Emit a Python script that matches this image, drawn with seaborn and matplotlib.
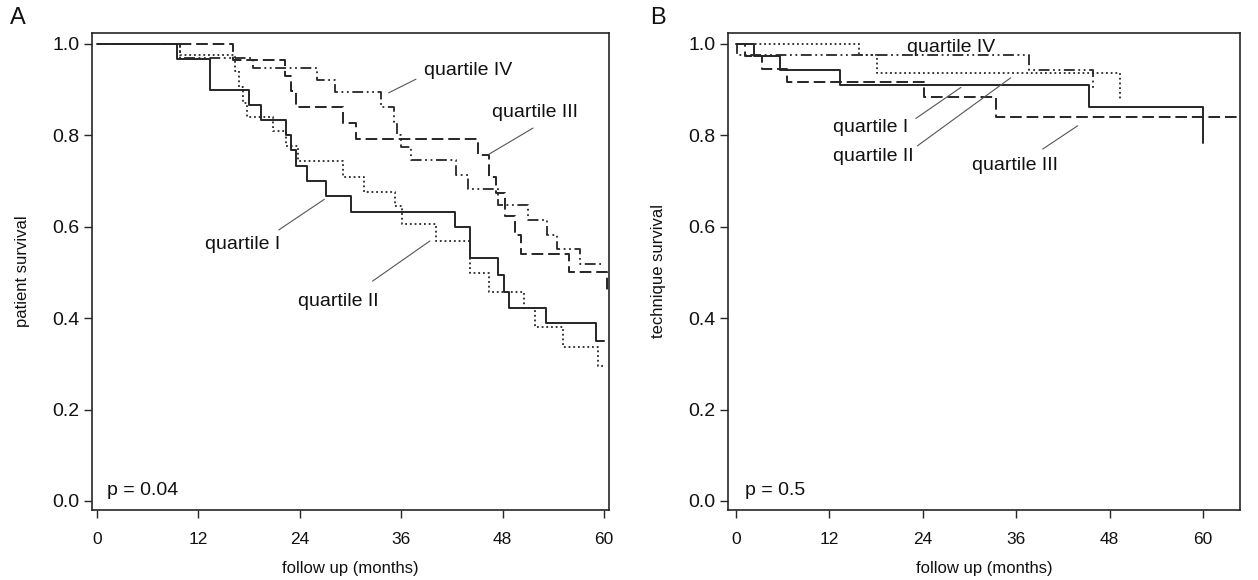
import matplotlib
matplotlib.use("Agg")
import matplotlib.pyplot as plt
import seaborn as sns

# --- data (months, survival fraction) ---
a_q1_t = [0, 9.5, 13.4, 18.0, 19.4, 22.4, 22.9, 23.6, 24.8, 27.1, 30.1, 42.4, 44.2, 47.5, 48.2, 48.8, 53.1, 59.0, 60.0]
a_q1_s = [1.0, 0.967, 0.900, 0.867, 0.833, 0.800, 0.767, 0.733, 0.700, 0.667, 0.633, 0.600, 0.531, 0.494, 0.458, 0.423, 0.389, 0.349, 0.349]

a_q2_t = [0, 9.8, 16.3, 16.8, 17.3, 17.7, 20.8, 22.4, 23.8, 29.1, 31.6, 35.3, 36.1, 40.1, 44.2, 46.4, 50.5, 51.8, 55.2, 59.3, 60.0]
a_q2_s = [1.0, 0.975, 0.940, 0.905, 0.870, 0.840, 0.810, 0.776, 0.745, 0.710, 0.677, 0.645, 0.606, 0.568, 0.498, 0.458, 0.422, 0.381, 0.338, 0.295, 0.295]

a_q3_t = [0, 16.1, 22.2, 22.9, 23.6, 29.1, 30.7, 45.1, 46.4, 47.2, 48.3, 49.5, 50.2, 55.9, 60.4]
a_q3_s = [1.0, 0.966, 0.931, 0.897, 0.862, 0.828, 0.793, 0.757, 0.710, 0.673, 0.624, 0.582, 0.540, 0.500, 0.458]

a_q4_t = [0, 9.8, 18.5, 26.0, 28.2, 33.6, 35.1, 35.5, 36.0, 37.2, 42.5, 43.9, 47.5, 51.0, 53.3, 54.4, 57.1, 60.0]
a_q4_s = [1.0, 0.970, 0.947, 0.921, 0.894, 0.863, 0.830, 0.800, 0.775, 0.746, 0.713, 0.682, 0.648, 0.615, 0.582, 0.551, 0.518, 0.518]

b_q1_t = [0, 2.3, 5.7, 13.4, 45.4, 60.0]
b_q1_s = [1.0, 0.974, 0.942, 0.910, 0.862, 0.784]

b_q2_t = [0, 15.8, 18.1, 49.3]
b_q2_s = [1.0, 0.975, 0.936, 0.875]

b_q3_t = [0, 1.2, 3.4, 6.5, 24.1, 33.4, 64.8]
b_q3_s = [1.0, 0.974, 0.945, 0.917, 0.883, 0.840, 0.840]

b_q4_t = [0, 0.1, 37.6, 45.9]
b_q4_s = [1.0, 0.975, 0.942, 0.904]

x_ticks = [0, 12, 24, 36, 48, 60]
y_ticks = [0.0, 0.2, 0.4, 0.6, 0.8, 1.0]

sns.set_theme(style="ticks")
plt.rcParams["font.family"] = ["Liberation Sans", "DejaVu Sans"]

ink = "#262626"
styles = {
    "I": dict(linestyle="-", linewidth=1.4),
    "II": dict(linestyle=(0, (1, 1.6)), linewidth=1.3),
    "III": dict(linestyle=(0, (6, 2.5)), linewidth=1.4),
    "IV": dict(linestyle=(0, (6, 2, 1, 2, 1, 2)), linewidth=1.3),
}


def km(ax, t, s, q):
    sns.lineplot(x=t, y=s, ax=ax, drawstyle="steps-post", estimator=None, sort=False,
                 color=ink, **styles[q])


def frame(ax, xlim, ylabel, ptext):
    ax.set_xlim(*xlim)
    ax.set_ylim(-0.0197, 1.024)
    ax.set_xticks(x_ticks)
    ax.set_yticks(y_ticks)
    ax.set_yticklabels([f"{v:.1f}" for v in y_ticks])
    ax.tick_params(axis="both", direction="out", length=6, width=1.0, color=ink,
                   labelsize=14, labelcolor="#111111", pad=3)
    ax.tick_params(axis="x", labelsize=12.5, pad=10)
    for sp in ax.spines.values():
        sp.set_visible(True)
        sp.set_color(ink)
        sp.set_linewidth(1.2)
    ax.set_xlabel("follow up (months)", fontsize=12, color="#111111", labelpad=10)
    ax.set_ylabel(ylabel, fontsize=12, color="#111111", labelpad=16)
    ax.text(1.2, 0.005, ptext, fontsize=14, color="#111111", ha="left", va="bottom")


def label(ax, txt, xy_text, p0, p1):
    ax.plot([p0[0], p1[0]], [p0[1], p1[1]], color="#555555", linewidth=0.8)
    ax.text(xy_text[0], xy_text[1], txt, fontsize=14, color="#111111", ha="center", va="center")


fig = plt.figure(figsize=(12.58, 5.8), dpi=100)
axA = fig.add_axes([92 / 1258, 70 / 580, 517 / 1258, 477 / 580])
axB = fig.add_axes([728 / 1258, 70 / 580, 512 / 1258, 477 / 580])

km(axA, a_q1_t, a_q1_s, "I")
km(axA, a_q2_t, a_q2_s, "II")
km(axA, a_q3_t, a_q3_s, "III")
km(axA, a_q4_t, a_q4_s, "IV")
frame(axA, (-0.59, 60.59), "patient survival", "p = 0.04")
label(axA, "quartile IV", (43.9, 0.943), (34.5, 0.893), (37.75, 0.923))
label(axA, "quartile III", (51.8, 0.849), (46.4, 0.759), (51.6, 0.816))
label(axA, "quartile I", (17.2, 0.562), (21.5, 0.593), (26.9, 0.660))
label(axA, "quartile II", (28.5, 0.436), (32.6, 0.481), (39.4, 0.569))

km(axB, b_q1_t, b_q1_s, "I")
km(axB, b_q2_t, b_q2_s, "II")
km(axB, b_q3_t, b_q3_s, "III")
km(axB, b_q4_t, b_q4_s, "IV")
frame(axB, (-1.03, 64.76), "technique survival", "p = 0.5")
axB.text(27.6, 0.993, "quartile IV", fontsize=14, color="#111111", ha="center", va="center")
label(axB, "quartile I", (17.3, 0.817), (23.1, 0.837), (28.9, 0.905))
label(axB, "quartile II", (17.7, 0.753), (23.3, 0.777), (35.3, 0.926))
label(axB, "quartile III", (35.8, 0.733), (39.4, 0.770), (43.9, 0.821))

fig.text(18 / 1258, 1 - 18 / 580, "A", fontsize=17, ha="center", va="center", color="#111111")
fig.text(658 / 1258, 1 - 18 / 580, "B", fontsize=17, ha="center", va="center", color="#111111")

fig.savefig("out.png", dpi=100, facecolor="white")
